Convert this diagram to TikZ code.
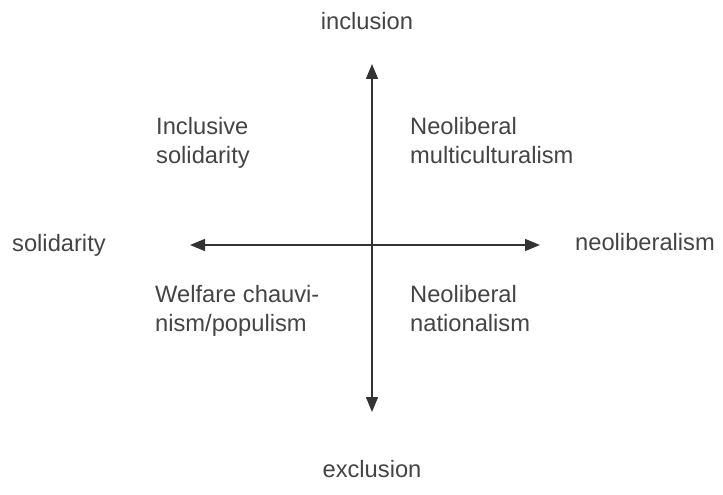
\documentclass[tikz,border=0pt]{standalone}
\usepackage{fontspec}
\setmainfont{Liberation Sans}
\usetikzlibrary{arrows.meta}

\definecolor{axisgray}{HTML}{333333}
\definecolor{textgray}{HTML}{444444}

\begin{document}
\begin{tikzpicture}[x=1pt, y=-1pt,
		axis/.style={line width=1.5pt, draw=axisgray, {Triangle[length=15pt,width=12pt]}-{Triangle[length=15pt,width=12pt]}},
		label/.style={text=textgray, inner sep=0pt, font=\fontsize{23.7}{29}\selectfont},
		quad/.style={label, align=left, anchor=base west}]
	\useasboundingbox (0,0) rectangle (723,495);
	\def\cx{372};
	\def\cy{245};

	\coordinate (top) at (\cx,64);
	\coordinate (bottom) at (\cx,412);
	\coordinate (left) at (190,\cy);
	\coordinate (right) at (540,\cy);

	\begin{scope}
		\draw[axis] (bottom) -- (top);
		\draw[axis] (left) -- (right);
	\end{scope}

	\begin{scope}
		\node[label, anchor=base] (inclusion) at (367,30) {inclusion};
		\node[label, anchor=base] (exclusion) at (372,477) {exclusion};
		\node[label, anchor=base west] (solidarity) at (12,251) {solidarity};
		\node[label, anchor=base west] (neoliberalism) at (575,250) {neoliberalism};
	\end{scope}

	% base anchor sits on the last line
	\begin{scope}
		\node[quad] (inclsol) at (156,163) {Inclusive\\solidarity};
		\node[quad] (neomulti) at (410,163) {Neoliberal\\multiculturalism};
		\node[quad] (welfare) at (155,331) {Welfare chauvi-\\nism/populism};
		\node[quad] (neonat) at (410,331) {Neoliberal\\nationalism};
	\end{scope}
\end{tikzpicture}
\end{document}
